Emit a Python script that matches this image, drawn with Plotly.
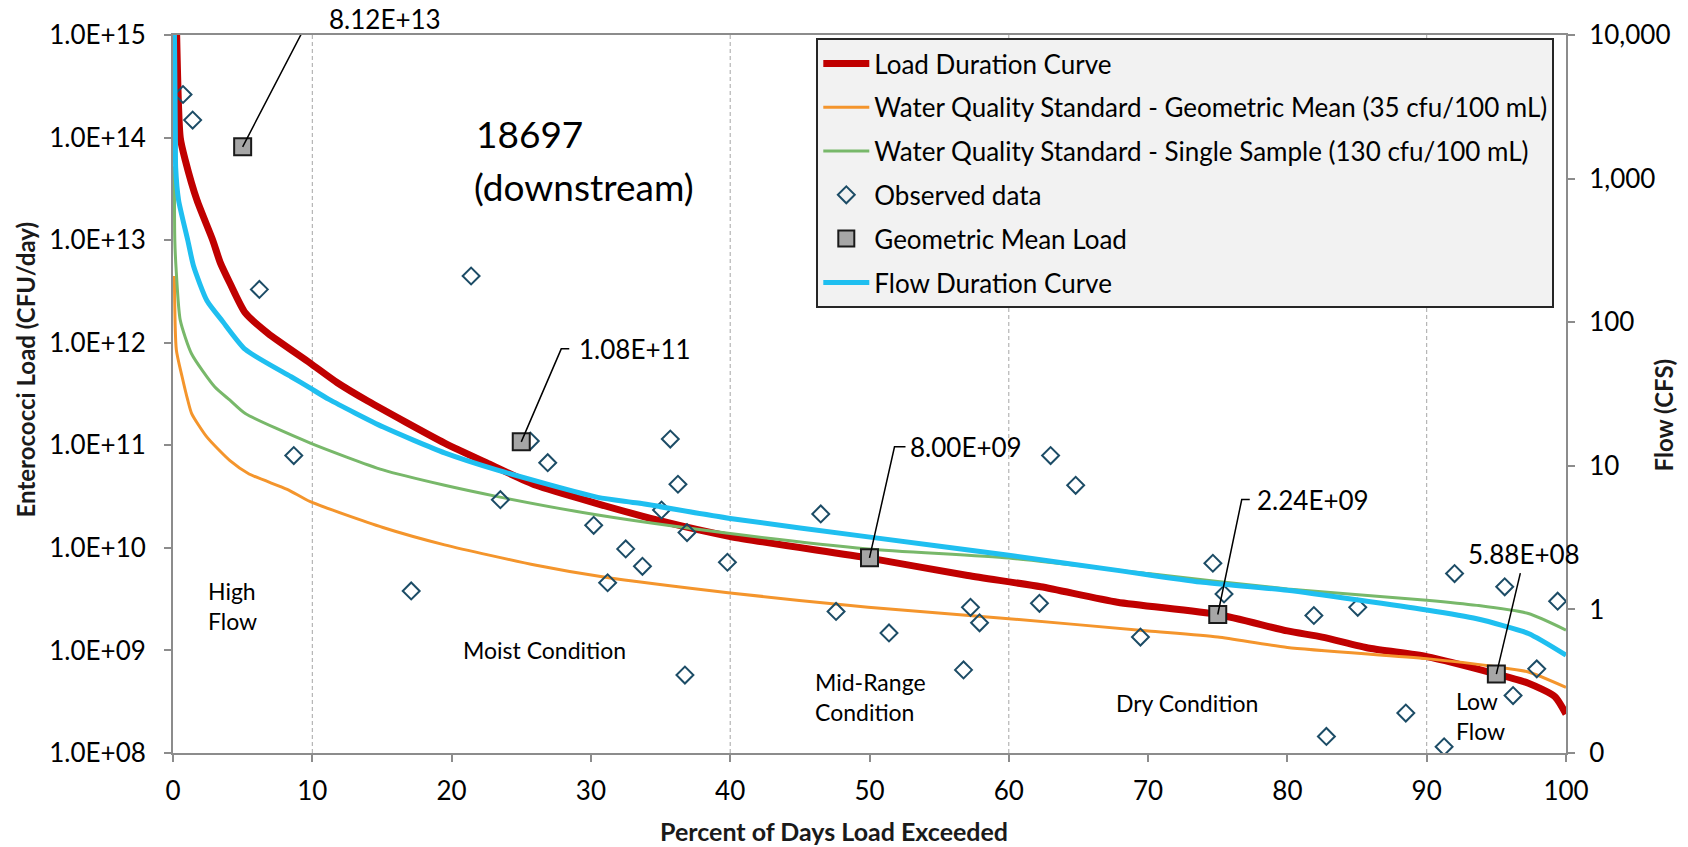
import math
import plotly.graph_objects as go

# ---------------- data ----------------
ldc_x = [0.25, 0.52, 0.88, 1.72, 2.85, 3.4, 4.09, 5.19, 6.83, 9.86, 11.8, 13.98, 19.5, 22.5,
         26.07, 30.5, 34.8, 40, 50, 57.05, 62.3, 67.8, 75, 80, 82.5, 85.9, 90, 95, 97.3, 99.2, 100]
ldc_y = [1.2e15, 1.0e14, 6.03e13, 2.45e13, 1.0e13, 6.0e12, 3.80e12, 1.95e12, 1.23e12, 6.31e11,
         4.07e11, 2.70e11, 1.05e11, 6.76e10, 4.07e10, 2.69e10, 1.86e10, 1.29e10, 7.94e9,
         5.37e9, 4.17e9, 2.95e9, 2.24e9, 1.55e9, 1.35e9, 1.05e9, 8.71e8, 5.89e8, 4.79e8,
         3.55e8, 2.40e8]

gm_std_x = [0.1, 0.24, 0.65, 1.06, 1.34, 2.44, 4.09, 5.46, 8.2, 9.86, 15.07, 19.5, 26.07, 30.7,
            40, 49.9, 60, 70, 75, 80, 90, 95, 97.3, 100]
gm_std_y = [4.47e12, 8.51e11, 4.68e11, 2.75e11, 2.04e11, 1.20e11, 7.08e10, 5.25e10, 3.72e10,
            2.82e10, 1.58e10, 1.07e10, 6.76e9, 5.25e9, 3.63e9, 2.63e9, 2.04e9, 1.55e9, 1.35e9,
            1.07e9, 8.32e8, 6.92e8, 6.17e8, 4.37e8]

ss_std_x = [0.1, 0.13, 0.24, 0.52, 1.34, 2.99, 4.09, 5.19, 9.86, 15.07, 19.5, 23.3, 30.5, 40,
            49.9, 60, 70, 80, 90, 93.6, 97.3, 100]
ss_std_y = [5.25e13, 1.0e13, 4.79e12, 1.66e12, 7.76e11, 3.72e11, 2.75e11, 2.04e11, 1.05e11,
            5.75e10, 4.07e10, 3.16e10, 2.09e10, 1.38e10, 9.77e9, 7.94e9, 5.62e9, 3.98e9,
            3.09e9, 2.75e9, 2.29e9, 1.58e9]

flow_x = [0.1, 0.17, 0.19, 0.4, 1.06, 1.48, 2.44, 3.54, 5.19, 8.48, 9.86, 11.2, 15.1, 19.5, 23.3,
          30.5, 33.4, 40, 49.9, 60, 67.8, 73.75, 80, 90, 93.6, 97.3, 100]
flow_y = [11220, 1995, 1202, 708, 372, 245, 141, 102, 64.6, 41.7, 34.7, 29.0, 18.6, 12.3, 9.33,
          6.03, 5.50, 4.30, 3.20, 2.38, 1.87, 1.55, 1.36, 0.99, 0.86, 0.68, 0.48]

obs_x = [0.72, 1.41, 6.2, 21.4, 8.67, 17.1, 23.5, 25.65, 26.9, 30.2, 35.7, 36.25, 35.07, 36.9,
         32.5, 33.7, 31.2, 39.8, 36.75, 46.5, 47.6, 51.4, 56.75, 57.25, 57.9, 62.2, 63.0, 64.8,
         69.45, 74.65, 75.45, 81.9, 85.05, 82.8, 88.5, 92.0, 91.25, 95.6, 96.2, 97.9, 99.4]
obs_y = [2.63e14, 1.48e14, 3.31e12, 4.47e12, 7.94e10, 3.80e9, 2.95e10, 1.10e11, 6.76e10, 1.66e10,
         1.15e11, 4.17e10, 2.34e10, 1.41e10, 9.77e9, 6.61e9, 4.57e9, 7.24e9, 5.75e8, 2.14e10,
         2.40e9, 1.48e9, 6.46e8, 2.63e9, 1.86e9, 2.88e9, 7.94e10, 4.07e10, 1.35e9, 7.08e9,
         3.55e9, 2.19e9, 2.63e9, 1.45e8, 2.45e8, 5.62e9, 1.15e8, 4.17e9, 3.63e8, 6.61e8, 3.02e9]

gm_x = [5, 25, 50, 75, 95]
gm_y = [8.12e13, 1.08e11, 8.00e9, 2.24e9, 5.88e8]
gm_labels = ["8.12E+13", "1.08E+11", "8.00E+09", "2.24E+09", "5.88E+08"]

x_ticks = [0, 10, 20, 30, 40, 50, 60, 70, 80, 90, 100]
y_ticks = [1e8, 1e9, 1e10, 1e11, 1e12, 1e13, 1e14, 1e15]
y_ticktext = ["1.0E+08", "1.0E+09", "1.0E+10", "1.0E+11", "1.0E+12", "1.0E+13", "1.0E+14", "1.0E+15"]
y2_ticks = [0.1, 1, 10, 100, 1000, 10000]
y2_ticktext = ["0", "1", "10", "100", "1,000", "10,000"]
regime_bounds = [10, 40, 60, 90]

# ---------------- styling ----------------
FONT = "Lato"
AX = "#8c8c8c"
RED = "#c00000"
ORANGE = "#f4952c"
GREEN = "#78b86a"
BLUE = "#1fbff0"
TEAL = "#1c4c66"
SMOOTH = 0.6

fig = go.Figure()
fig.add_trace(go.Scatter(x=ldc_x, y=ldc_y, mode="lines", name="Load Duration Curve",
                         line=dict(color=RED, width=7, shape="spline", smoothing=SMOOTH), legendgroup="a"))
fig.add_trace(go.Scatter(x=gm_std_x, y=gm_std_y, mode="lines",
                         name="Water Quality Standard - Geometric Mean (35 cfu/100 mL)",
                         line=dict(color=ORANGE, width=3, shape="spline", smoothing=SMOOTH), legendgroup="b"))
fig.add_trace(go.Scatter(x=ss_std_x, y=ss_std_y, mode="lines",
                         name="Water Quality Standard - Single Sample (130 cfu/100 mL)",
                         line=dict(color=GREEN, width=3, shape="spline", smoothing=SMOOTH), legendgroup="c"))
fig.add_trace(go.Scatter(x=obs_x, y=obs_y, mode="markers", name="Observed data",
                         marker=dict(symbol="diamond-open", size=13, color=TEAL, line=dict(width=2, color=TEAL)),
                         legendgroup="d"))
fig.add_trace(go.Scatter(x=gm_x, y=gm_y, mode="markers", name="Geometric Mean Load",
                         marker=dict(symbol="square", size=17, color="#a6a6a6", line=dict(width=2, color="#1a1a1a")),
                         legendgroup="e"))
fig.add_trace(go.Scatter(x=flow_x, y=flow_y, mode="lines", name="Flow Duration Curve",
                         line=dict(color=BLUE, width=5, shape="spline", smoothing=SMOOTH),
                         yaxis="y2", legendgroup="f"))

shapes = []
for b in regime_bounds:
    shapes.append(dict(type="line", xref="x", yref="paper", x0=b, x1=b, y0=0, y1=1,
                       line=dict(color="#a6a6a6", width=1, dash="4px,3px"), layer="below"))

# leader lines (pixel offsets anchored on each geometric-mean marker)
leader_paths = ["M0,0 L67,129 L78,129", "M0,0 L40,93 L48,93", "M0,0 L25,111 L36,111",
                "M0,0 L24,115 L32,115", "M0,0 L24,101"]
for gx, gy, p in zip(gm_x, gm_y, leader_paths):
    shapes.append(dict(type="path", xref="x", yref="y", xsizemode="pixel", ysizemode="pixel",
                       xanchor=gx, yanchor=gy, path=p, line=dict(color="black", width=1.5)))

annotations = []
label_offsets = [(84, 128, "left"), (56, 93, "left"), (38, 111, "left"), (37, 115, "left"), (28, 120, "center")]
for gx, gy, txt, (dx, dy, anc) in zip(gm_x, gm_y, gm_labels, label_offsets):
    annotations.append(dict(x=gx, y=math.log10(gy), xref="x", yref="y", text=txt, showarrow=False,
                            xshift=dx, yshift=dy, xanchor=anc, yanchor="middle",
                            font=dict(family=FONT, size=26, color="black")))

def px_x(p):
    return (p - 172.7) / 1393.0

def px_y(p):
    return (752.7 - p) / 717.7

REG = 23
annotations += [
    dict(xref="paper", yref="paper", x=px_x(474), y=px_y(133), text="18697", showarrow=False,
         xanchor="left", yanchor="middle", font=dict(family=FONT, size=37, color="black")),
    dict(xref="paper", yref="paper", x=px_x(472), y=px_y(186), text="(downstream)", showarrow=False,
         xanchor="left", yanchor="middle", font=dict(family=FONT, size=37, color="black")),
    dict(xref="paper", yref="paper", x=px_x(206), y=px_y(606), text="High<br>Flow", showarrow=False,
         xanchor="left", yanchor="middle", align="left", font=dict(family=FONT, size=REG, color="black")),
    dict(xref="paper", yref="paper", x=px_x(461), y=px_y(650), text="Moist Condition", showarrow=False,
         xanchor="left", yanchor="middle", font=dict(family=FONT, size=REG, color="black")),
    dict(xref="paper", yref="paper", x=px_x(813), y=px_y(697), text="Mid-Range<br>Condition", showarrow=False,
         xanchor="left", yanchor="middle", align="left", font=dict(family=FONT, size=REG, color="black")),
    dict(xref="paper", yref="paper", x=px_x(1114), y=px_y(703), text="Dry Condition", showarrow=False,
         xanchor="left", yanchor="middle", font=dict(family=FONT, size=REG, color="black")),
    dict(xref="paper", yref="paper", x=px_x(1454), y=px_y(716), text="Low<br>Flow", showarrow=False,
         xanchor="left", yanchor="middle", align="left", font=dict(family=FONT, size=REG, color="black")),
    dict(xref="paper", yref="paper", x=px_x(25), y=px_y(370), text="<b>Enterococci Load (CFU/day)</b>",
         showarrow=False, textangle=-90, xanchor="center", yanchor="middle",
         font=dict(family=FONT, size=24, color="#1a1a1a")),
    dict(xref="paper", yref="paper", x=px_x(1663), y=px_y(415), text="<b>Flow (CFS)</b>",
         showarrow=False, textangle=-90, xanchor="center", yanchor="middle",
         font=dict(family=FONT, size=24, color="#1a1a1a")),
    dict(xref="paper", yref="paper", x=px_x(834), y=px_y(831), text="<b>Percent of Days Load Exceeded</b>",
         showarrow=False, xanchor="center", yanchor="middle",
         font=dict(family=FONT, size=25, color="#1a1a1a")),
]

axis_common = dict(showline=True, linecolor=AX, linewidth=2, ticks="outside", ticklen=7,
                   tickcolor=AX, tickwidth=2, showgrid=False, zeroline=False,
                   tickfont=dict(family=FONT, size=26, color="black"))

fig.update_layout(
    width=1688, height=847,
    margin=dict(l=173, r=122, t=35, b=94),
    paper_bgcolor="white", plot_bgcolor="white",
    font=dict(family=FONT, color="black"),
    xaxis=dict(range=[0, 100], tickvals=x_ticks, mirror=True, ticklabelstandoff=7, **axis_common),
    yaxis=dict(type="log", range=[8, 15], tickvals=y_ticks, ticktext=y_ticktext,
               ticklabelstandoff=13, **axis_common),
    yaxis2=dict(type="log", range=[-1, 4], tickvals=y2_ticks, ticktext=y2_ticktext,
                overlaying="y", side="right", ticklabelstandoff=9, **axis_common),
    legend=dict(x=px_x(816), y=px_y(38), xanchor="left", yanchor="top",
                bgcolor="#f2f2f2", bordercolor="#262626", borderwidth=2,
                font=dict(family=FONT, size=26, color="black"),
                traceorder="grouped", tracegroupgap=7, itemwidth=46),
    shapes=shapes,
    annotations=annotations,
    showlegend=True,
)

fig.write_html("out.html")
